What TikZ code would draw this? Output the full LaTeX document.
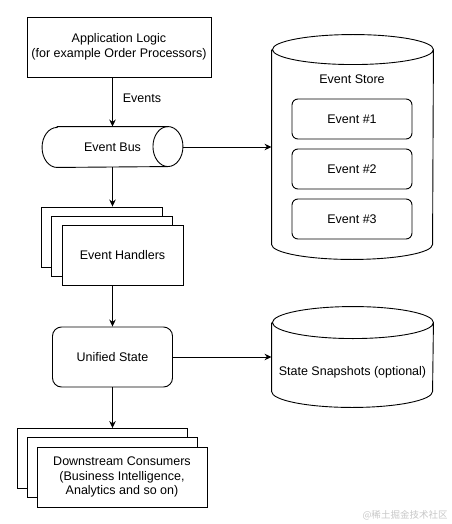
\documentclass[tikz,border=0pt]{standalone}
\usepackage{fontspec}
\setmainfont{Liberation Sans}
\newfontfamily\cjkfont{Noto Sans CJK SC}
\usetikzlibrary{positioning}
\usetikzlibrary{arrows.meta}

\begin{document}
\begin{tikzpicture}
    [
      x = 1pt, y = 1pt,
      line width = 0.9pt,
      every node/.style = {font=\fontsize{12.5}{14.5}\selectfont, align=center, inner sep=0pt},
      box/.style = {draw, fill=white, minimum width=#1, minimum height=60pt},
      evbox/.style = {draw, rounded corners=6pt, minimum width=120pt, minimum height=40pt},
      flow/.style = {-{Stealth[length=7pt, width=6.5pt]}},
    ]

    \useasboundingbox (0,0) rectangle (451,-524);

    % application logic and event bus
    \node[box=184pt] (app) at (119,-47) {Application Logic\\(for example Order Processors)};
    \node (evlbl) at (142,-98) {Events};

    \node[minimum width=140pt, minimum height=40pt] (bus) at (112.5,-147) {Event Bus};
    \draw ([xshift=15pt]bus.north west) -- ([xshift=-15pt]bus.north east)
      arc[start angle=90, end angle=-90, x radius=15, y radius=20]
      -- ([xshift=15pt]bus.south west)
      arc[start angle=270, end angle=90, x radius=15, y radius=20] -- cycle;
    \draw ([xshift=-15pt]bus.north east) arc[start angle=90, end angle=270, x radius=15, y radius=20];

    % event handlers
    \node[box=121pt] (hback) at (102,-237) {};
    \node[box=121pt] (hmid) at (112,-246) {};
    \node[box=121pt] (handlers) at (122.5,-255.5) {Event Handlers};

    % unified state
    \node[box=120pt, rounded corners=9pt] (unified) at (112.5,-357) {Unified State};

    % downstream consumers
    \node[box=170pt] (dback) at (102,-458.5) {};
    \node[box=170pt] (dmid) at (112,-467) {};
    \node[box=170pt] (consumers) at (122,-477) {Downstream Consumers\\(Business Intelligence,\\Analytics and so on)};

    % event store
    \node[minimum width=161pt, minimum height=224pt] (store) at (352.5,-147) {};
    \draw ([yshift=-15pt]store.north west) -- ([yshift=15pt]store.south west)
      arc[start angle=180, end angle=360, x radius=80.5, y radius=15]
      -- ([yshift=-15pt]store.north east)
      arc[start angle=0, end angle=180, x radius=80.5, y radius=15]
      arc[start angle=180, end angle=360, x radius=80.5, y radius=15];
    \node (storelbl) at (352,-79) {Event Store};
    \node[evbox] (ev1) at (352,-119) {Event \#1};
    \node[evbox] (ev2) at (352,-169) {Event \#2};
    \node[evbox] (ev3) at (352,-219) {Event \#3};

    % state snapshots
    \node[minimum width=161pt, minimum height=100pt] (snap) at (352.5,-357) {};
    \draw ([yshift=-16pt]snap.north west) -- ([yshift=16pt]snap.south west)
      arc[start angle=180, end angle=360, x radius=80.5, y radius=16]
      -- ([yshift=-16pt]snap.north east)
      arc[start angle=0, end angle=180, x radius=80.5, y radius=16]
      arc[start angle=180, end angle=360, x radius=80.5, y radius=16];
    \node (snaplbl) at ([yshift=-15pt]snap.center) {State Snapshots (optional)};

    % connectors
    \draw[flow] (app.south -| bus.north) -- (bus.north);
    \draw[flow] (bus.east) -- (store.west);
    \draw[flow] (bus.south) -- (bus.south |- hback.north);
    \draw[flow] (unified.north |- handlers.south) -- (unified.north);
    \draw[flow] (unified.east) -- (snap.west);
    \draw[flow] (unified.south) -- (unified.south |- dback.north);

    \node[font=\cjkfont\fontsize{9.5}{11}\selectfont, text=black!22] (mark) at (405,-515) {@稀土掘金技术社区};

  \end{tikzpicture}
\end{document}
